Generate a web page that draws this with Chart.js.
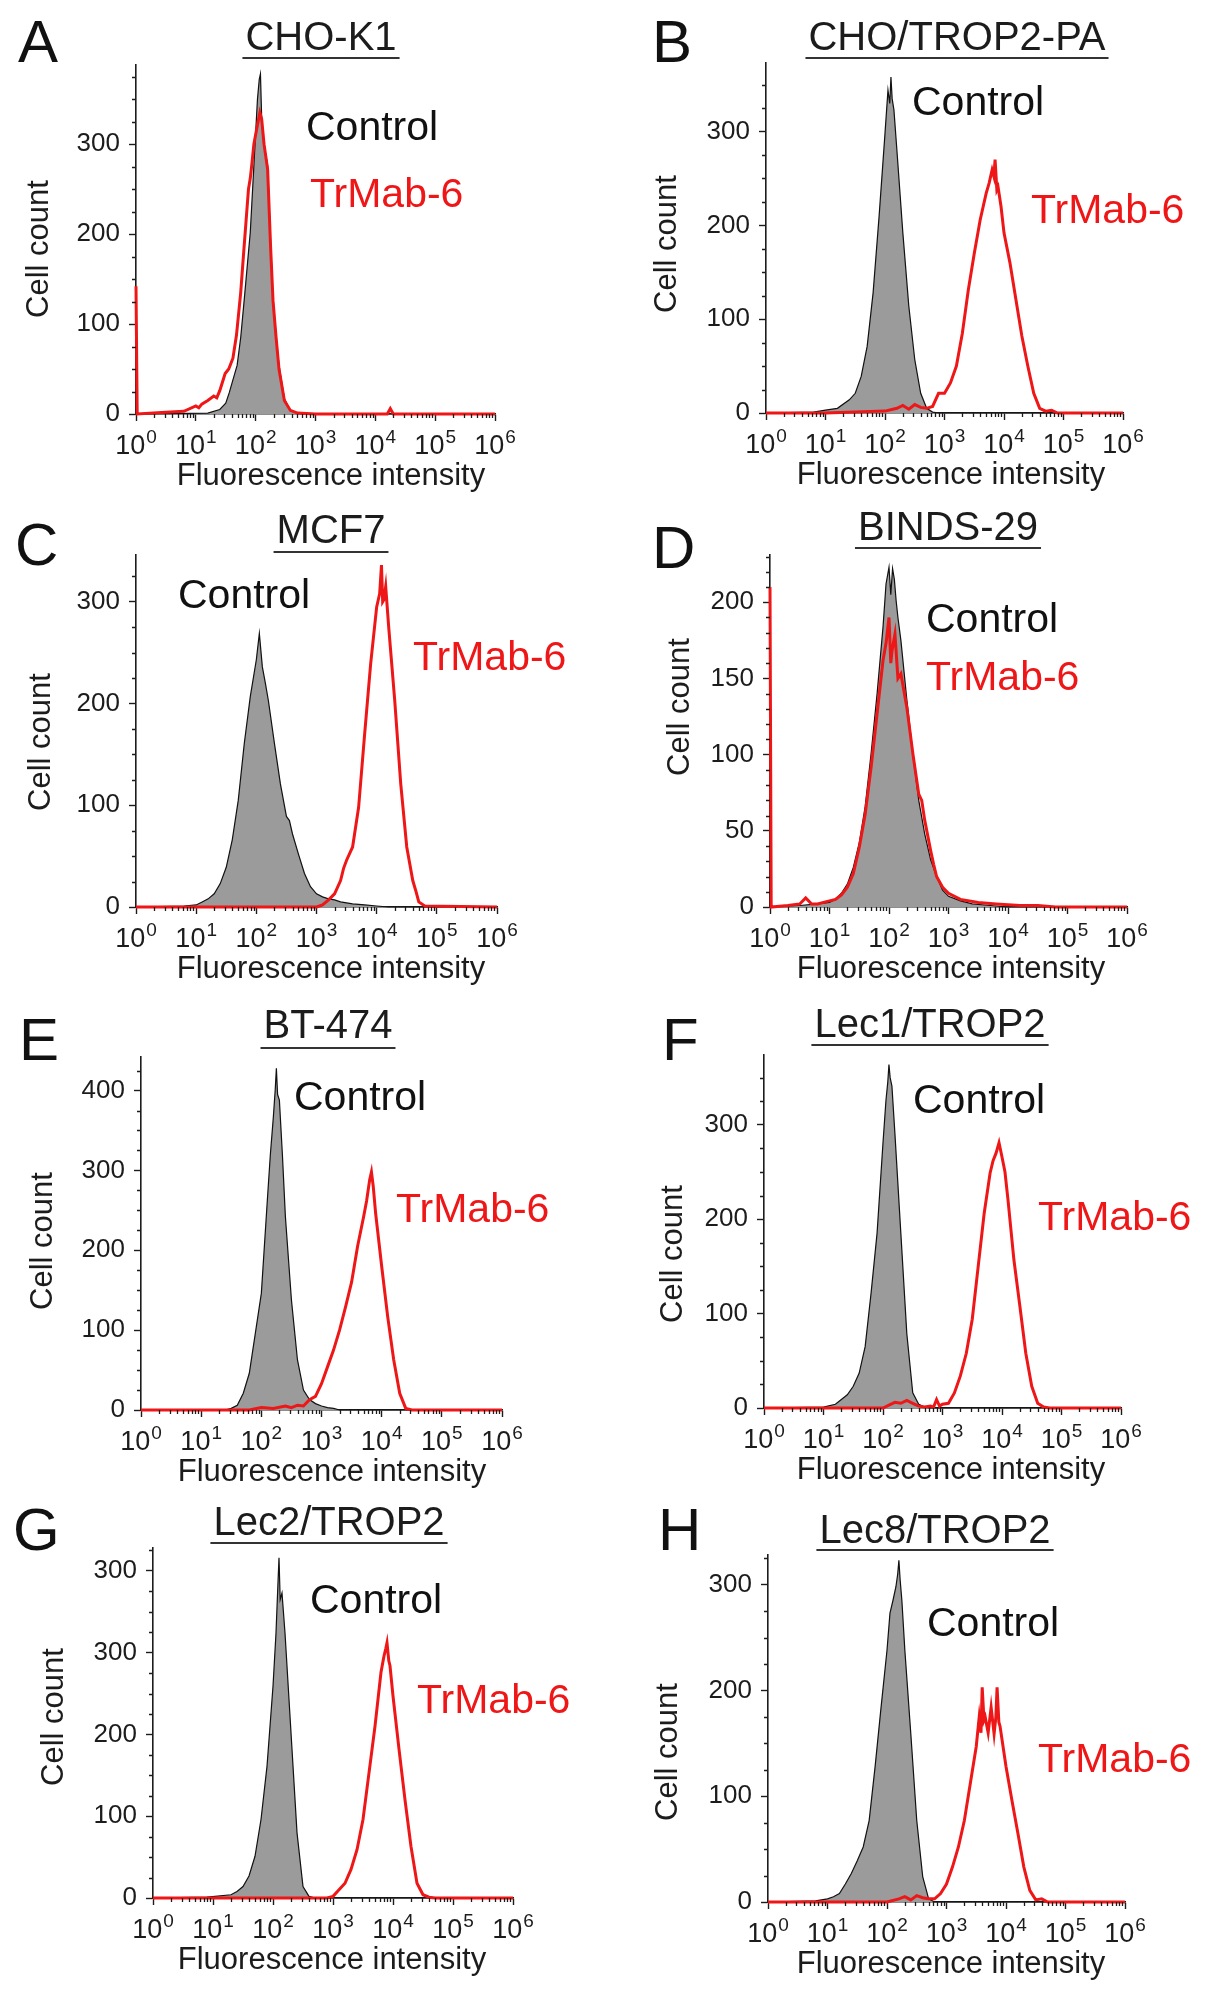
<!DOCTYPE html>
<html>
<head>
<meta charset="utf-8">
<script src="https://cdn.jsdelivr.net/npm/chart.js@4.4.1/dist/chart.umd.min.js"></script>
<style>
html,body{margin:0;padding:0;background:#ffffff;}
#wrap{position:relative;width:1205px;height:2000px;overflow:hidden;}
#wrap canvas{position:absolute;}
</style>
</head>
<body>
<div id="wrap"></div>
<script>
// ---------- DATA ----------
// x values are given as log10(fluorescence intensity)
const panelIds = ['A','B','C','D','E','F','G','H'];
const panelTitles = ['CHO-K1','CHO/TROP2-PA','MCF7','BINDS-29','BT-474','Lec1/TROP2','Lec2/TROP2','Lec8/TROP2'];
const seriesNames = ['Control','TrMab-6'];

const xTickValues = [1, 10, 100, 1000, 10000, 100000, 1000000];
const xTickBase = '10';
const xTickExponents = ['0','1','2','3','4','5','6'];

const yTicks100 = [0, 100, 200, 300];
const yLabels100 = ['0','100','200','300'];
const yTicksD = [0, 50, 100, 150, 200];
const yLabelsD = ['0','50','100','150','200'];
const yTicksE = [0, 100, 200, 300, 400];
const yLabelsE = ['0','100','200','300','400'];
const yTicksG = [0, 100, 200, 300, 400];
const yLabelsG = ['0','100','200','300','300'];

// Panel A - CHO-K1
const A_ctrl_log = [0, 1.2, 1.4, 1.5, 1.56, 1.62, 1.69, 1.75, 1.81, 1.86, 1.91, 1.97, 2.03, 2.06, 2.08, 2.1, 2.14, 2.2, 2.25, 2.29, 2.34, 2.39, 2.48, 2.58, 2.7, 2.8, 6];
const A_ctrl_cnt = [0, 1, 5, 12, 24, 38, 54, 85, 128, 165, 202, 276, 350, 372, 378, 330, 300, 276, 190, 128, 88, 54, 17, 4, 1, 0, 0];
const A_tr_log = [0, 0.02, 0.5, 0.8, 1.0, 1.05, 1.1, 1.2, 1.3, 1.35, 1.4, 1.49, 1.55, 1.62, 1.68, 1.75, 1.8, 1.84, 1.88, 1.91, 1.94, 1.97, 2.02, 2.07, 2.1, 2.14, 2.2, 2.25, 2.29, 2.34, 2.39, 2.48, 2.58, 2.7, 3.0, 4.2, 4.25, 4.3, 6];
const A_tr_cnt = [142, 0, 2, 3, 9, 7, 11, 15, 20, 18, 26, 45, 50, 62, 88, 135, 180, 215, 250, 262, 280, 300, 318, 335, 328, 300, 272, 185, 126, 86, 50, 15, 4, 1, 0, 0, 6, 0, 0];

// Panel B - CHO/TROP2-PA
const B_ctrl_log = [0, 0.8, 1.0, 1.2, 1.4, 1.5, 1.6, 1.7, 1.8, 1.9, 2.0, 2.05, 2.08, 2.1, 2.12, 2.15, 2.2, 2.3, 2.4, 2.5, 2.6, 2.7, 2.8, 2.9, 6];
const B_ctrl_cnt = [0, 1, 3, 5, 14, 21, 39, 71, 128, 209, 298, 344, 330, 358, 335, 323, 280, 192, 114, 57, 21, 5, 1, 0, 0];
const B_tr_log = [0, 1.0, 2.0, 2.2, 2.3, 2.4, 2.5, 2.6, 2.7, 2.8, 2.9, 3.0, 3.1, 3.2, 3.3, 3.4, 3.5, 3.6, 3.7, 3.75, 3.8, 3.83, 3.85, 3.88, 3.9, 3.95, 4.0, 4.1, 4.2, 4.3, 4.4, 4.5, 4.6, 4.7, 4.8, 4.9, 6];
const B_tr_cnt = [0, 0, 2, 5, 8, 4, 9, 6, 5, 7, 21, 21, 32, 50, 85, 131, 170, 206, 234, 245, 259, 252, 270, 238, 241, 220, 192, 160, 121, 82, 50, 21, 5, 2, 3, 0, 0];

// Panel C - MCF7
const C_ctrl_log = [0, 0.8, 1.0, 1.1, 1.2, 1.3, 1.4, 1.5, 1.6, 1.7, 1.8, 1.9, 2.0, 2.05, 2.1, 2.15, 2.2, 2.3, 2.4, 2.5, 2.55, 2.6, 2.7, 2.8, 2.9, 3.0, 3.1, 3.2, 3.3, 3.4, 3.5, 3.6, 3.8, 4.0, 4.2, 6];
const C_ctrl_cnt = [0, 1, 2, 5, 8, 13, 23, 39, 66, 105, 161, 207, 243, 269, 236, 220, 203, 161, 121, 89, 85, 72, 52, 33, 20, 13, 10, 8, 7, 5, 4, 3, 2, 1, 0, 0];
const C_tr_log = [0, 3.0, 3.1, 3.2, 3.3, 3.4, 3.45, 3.5, 3.6, 3.7, 3.8, 3.9, 4.0, 4.05, 4.08, 4.1, 4.12, 4.15, 4.2, 4.3, 4.4, 4.5, 4.6, 4.65, 4.7, 4.8, 6];
const C_tr_cnt = [0, 0, 2, 7, 13, 26, 38, 46, 59, 98, 170, 239, 295, 308, 336, 300, 302, 315, 275, 203, 121, 59, 26, 16, 5, 1, 0];

// Panel D - BINDS-29
const D_ctrl_log = [0, 0.5, 0.8, 1.0, 1.1, 1.2, 1.3, 1.4, 1.5, 1.6, 1.7, 1.8, 1.9, 1.95, 2.0, 2.03, 2.06, 2.09, 2.12, 2.15, 2.2, 2.3, 2.4, 2.5, 2.6, 2.7, 2.8, 2.9, 3.0, 3.2, 3.4, 3.7, 4.0, 6];
const D_ctrl_cnt = [0, 1, 2, 3, 5, 9, 15, 26, 42, 66, 101, 140, 184, 212, 223, 205, 222, 215, 201, 190, 175, 136, 101, 70, 48, 31, 20, 11, 7, 4, 2, 1, 0, 0];
const D_tr_log = [0, 0.02, 0.3, 0.5, 0.6, 0.7, 0.8, 1.0, 1.1, 1.2, 1.3, 1.4, 1.5, 1.6, 1.7, 1.8, 1.9, 1.95, 2.0, 2.03, 2.05, 2.1, 2.15, 2.2, 2.3, 2.4, 2.5, 2.55, 2.6, 2.7, 2.75, 2.8, 2.9, 3.0, 3.2, 3.5, 3.8, 4.2, 4.5, 4.8, 6];
const D_tr_cnt = [210, 0, 1, 2, 6, 2, 2, 4, 5, 8, 13, 22, 39, 61, 92, 127, 162, 173, 190, 160, 168, 179, 150, 153, 131, 101, 74, 70, 57, 37, 28, 20, 13, 9, 5, 3, 2, 1, 1, 0, 0];

// Panel E - BT-474
const E_ctrl_log = [0, 1.4, 1.5, 1.6, 1.7, 1.8, 1.9, 2.0, 2.1, 2.15, 2.2, 2.23, 2.25, 2.27, 2.3, 2.35, 2.4, 2.5, 2.6, 2.7, 2.8, 2.9, 3.0, 3.1, 3.2, 3.3, 6];
const E_ctrl_cnt = [0, 0, 2, 6, 21, 46, 96, 146, 263, 320, 367, 400, 428, 395, 388, 320, 242, 138, 63, 25, 13, 8, 5, 3, 2, 0, 0];
const E_tr_log = [0, 1.8, 2.0, 2.2, 2.4, 2.5, 2.6, 2.7, 2.8, 2.9, 3.0, 3.1, 3.2, 3.3, 3.4, 3.5, 3.6, 3.7, 3.75, 3.8, 3.83, 3.86, 3.9, 4.0, 4.1, 4.2, 4.3, 4.4, 4.5, 6];
const E_tr_cnt = [0, 0, 3, 2, 5, 3, 6, 5, 13, 17, 33, 54, 75, 100, 129, 160, 205, 242, 262, 288, 298, 280, 246, 180, 117, 63, 21, 2, 0, 0];

// Panel F - Lec1/TROP2
const F_ctrl_log = [0, 1.0, 1.2, 1.3, 1.4, 1.5, 1.6, 1.7, 1.8, 1.9, 2.0, 2.05, 2.08, 2.1, 2.12, 2.15, 2.2, 2.3, 2.4, 2.5, 2.6, 2.7, 2.8, 6];
const F_ctrl_cnt = [0, 1, 4, 9, 14, 23, 37, 65, 122, 185, 281, 326, 345, 364, 350, 341, 291, 185, 79, 16, 4, 1, 0, 0];
const F_tr_log = [0, 2.0, 2.1, 2.2, 2.3, 2.4, 2.5, 2.6, 2.7, 2.8, 2.85, 2.9, 2.95, 3.0, 3.1, 3.2, 3.3, 3.4, 3.5, 3.6, 3.7, 3.8, 3.85, 3.9, 3.95, 4.0, 4.05, 4.1, 4.2, 4.3, 4.4, 4.5, 4.6, 4.7, 4.8, 6];
const F_tr_cnt = [0, 0, 3, 6, 5, 8, 5, 2, 1, 2, 1, 9, 2, 4, 5, 16, 34, 58, 94, 150, 206, 249, 262, 270, 281, 266, 250, 221, 157, 108, 58, 23, 5, 1, 0, 0];

// Panel G - Lec2/TROP2
const G_ctrl_log = [0, 0.9, 1.3, 1.4, 1.5, 1.6, 1.7, 1.8, 1.9, 2.0, 2.05, 2.08, 2.1, 2.12, 2.15, 2.2, 2.3, 2.4, 2.5, 2.6, 2.7, 6];
const G_ctrl_cnt = [0, 1, 4, 8, 14, 27, 51, 96, 161, 259, 324, 380, 416, 365, 373, 324, 202, 80, 14, 2, 0, 0];
const G_tr_log = [0, 2.9, 3.0, 3.1, 3.2, 3.3, 3.4, 3.5, 3.6, 3.7, 3.8, 3.85, 3.88, 3.9, 3.93, 3.95, 4.0, 4.1, 4.2, 4.3, 4.4, 4.5, 4.6, 4.7, 6];
const G_tr_cnt = [0, 0, 2, 10, 18, 35, 59, 96, 153, 210, 276, 296, 305, 312, 290, 284, 247, 182, 120, 63, 18, 4, 1, 0, 0];

// Panel H - Lec8/TROP2
const H_ctrl_log = [0, 0.8, 1.0, 1.1, 1.2, 1.3, 1.4, 1.5, 1.6, 1.7, 1.8, 1.9, 2.0, 2.05, 2.1, 2.15, 2.18, 2.2, 2.22, 2.25, 2.3, 2.4, 2.5, 2.6, 2.7, 2.8, 6];
const H_ctrl_cnt = [0, 1, 3, 5, 8, 17, 27, 39, 52, 77, 128, 184, 238, 273, 285, 298, 310, 323, 305, 285, 238, 159, 77, 24, 3, 0, 0];
const H_tr_log = [0, 2.0, 2.2, 2.3, 2.4, 2.5, 2.6, 2.7, 2.8, 2.9, 3.0, 3.1, 3.2, 3.3, 3.4, 3.5, 3.55, 3.58, 3.6, 3.63, 3.65, 3.7, 3.75, 3.8, 3.83, 3.85, 3.88, 3.9, 4.0, 4.1, 4.2, 4.3, 4.4, 4.5, 4.6, 4.7, 6];
const H_tr_cnt = [0, 0, 3, 5, 2, 6, 4, 3, 3, 8, 17, 33, 52, 77, 112, 147, 175, 160, 203, 172, 175, 160, 184, 159, 175, 203, 170, 166, 128, 96, 65, 33, 11, 2, 3, 0, 0];

// ---------- LAYOUT (page pixels) ----------
const FONT = "'Liberation Sans', Arial, Helvetica, sans-serif";
const INK = '#1c1c1c';
const RED = 'rgb(238,22,22)';
const GRAY = '#9b9b9b';

const layout = {
  A:{col:0,row:0,axisX:136,right:495,axisY:414,top:65,ymax:388,minor:25,yt:yTicks100,yl:yLabels100,
     title:{cx:321,base:50,ul:58},letter:{x:18,base:62},ctrl:{x:306,base:140},tr:{x:310,base:207},cc:{x:39,y:249},fi:{x:331}},
  B:{col:1,row:0,axisX:766,right:1123,axisY:413,top:63,ymax:373,minor:25,yt:yTicks100,yl:yLabels100,
     title:{cx:957,base:50,ul:58},letter:{x:652,base:62},ctrl:{x:912,base:115},tr:{x:1031,base:223},cc:{x:667,y:244},fi:{x:951}},
  C:{col:0,row:1,axisX:136,right:497,axisY:907,top:555,ymax:346,minor:25,yt:yTicks100,yl:yLabels100,
     title:{cx:331,base:543,ul:552},letter:{x:15,base:565},ctrl:{x:178,base:608},tr:{x:413,base:670},cc:{x:41,y:742},fi:{x:331}},
  D:{col:1,row:1,axisX:770,right:1127,axisY:907,top:555,ymax:231,minor:10,yt:yTicksD,yl:yLabelsD,
     title:{cx:948,base:540,ul:548},letter:{x:652,base:568},ctrl:{x:926,base:632},tr:{x:926,base:690},cc:{x:680,y:707},fi:{x:951}},
  E:{col:0,row:2,axisX:141,right:502,axisY:1410,top:1057,ymax:442,minor:25,yt:yTicksE,yl:yLabelsE,
     title:{cx:328,base:1038,ul:1048},letter:{x:19,base:1060},ctrl:{x:294,base:1110},tr:{x:396,base:1222},cc:{x:43,y:1241},fi:{x:332}},
  F:{col:1,row:2,axisX:764,right:1121,axisY:1408,top:1055,ymax:374,minor:25,yt:yTicks100,yl:yLabels100,
     title:{cx:930,base:1037,ul:1045},letter:{x:662,base:1060},ctrl:{x:913,base:1113},tr:{x:1038,base:1230},cc:{x:673,y:1254},fi:{x:951}},
  G:{col:0,row:3,axisX:153,right:513,axisY:1898,top:1548,ymax:428,minor:25,yt:yTicksG,yl:yLabelsG,
     title:{cx:329,base:1535,ul:1543},letter:{x:13,base:1550},ctrl:{x:310,base:1613},tr:{x:417,base:1713},cc:{x:54,y:1717},fi:{x:332}},
  H:{col:1,row:3,axisX:768,right:1125,axisY:1902,top:1555,ymax:328,minor:25,yt:yTicks100,yl:yLabels100,
     title:{cx:935,base:1543,ul:1550},letter:{x:658,base:1550},ctrl:{x:927,base:1636},tr:{x:1038,base:1772},cc:{x:668,y:1752},fi:{x:951}}
};

const seriesData = {
  A:[[A_ctrl_log,A_ctrl_cnt],[A_tr_log,A_tr_cnt]],
  B:[[B_ctrl_log,B_ctrl_cnt],[B_tr_log,B_tr_cnt]],
  C:[[C_ctrl_log,C_ctrl_cnt],[C_tr_log,C_tr_cnt]],
  D:[[D_ctrl_log,D_ctrl_cnt],[D_tr_log,D_tr_cnt]],
  E:[[E_ctrl_log,E_ctrl_cnt],[E_tr_log,E_tr_cnt]],
  F:[[F_ctrl_log,F_ctrl_cnt],[F_tr_log,F_tr_cnt]],
  G:[[G_ctrl_log,G_ctrl_cnt],[G_tr_log,G_tr_cnt]],
  H:[[H_ctrl_log,H_ctrl_cnt],[H_tr_log,H_tr_cnt]]
};

function toPoints(logs, counts){
  return logs.map((e,i)=>({x:Math.pow(10,e), y:counts[i]}));
}

// overlay plugin: minor ticks, power-of-ten tick labels and panel texts
const overlay = {
  id:'overlay',
  afterDraw(chart){
    const o = chart.options.plugins.overlay;
    if(!o) return;
    const ctx = chart.ctx, xs = chart.scales.x, ys = chart.scales.y, ca = chart.chartArea;
    ctx.save();
    ctx.strokeStyle = INK; ctx.lineWidth = 1.3;
    ctx.beginPath();
    for(let v = o.minor; v <= ys.max; v += o.minor){
      if(o.yt.indexOf(v) >= 0) continue;
      const py = Math.round(ys.getPixelForValue(v)) + 0.5;
      ctx.moveTo(ca.left - 4, py); ctx.lineTo(ca.left, py);
    }
    for(let d = 0; d < 6; d++){
      for(let m = 2; m <= 9; m++){
        const px = Math.round(xs.getPixelForValue(m*Math.pow(10,d))) + 0.5;
        ctx.moveTo(px, ca.bottom); ctx.lineTo(px, ca.bottom + 4);
      }
    }
    ctx.stroke();

    // x tick labels: 10 with raised exponent
    ctx.fillStyle = INK;
    ctx.textBaseline = 'alphabetic';
    ctx.textAlign = 'left';
    const baseFont = '27px ' + FONT, supFont = '19px ' + FONT;
    const labelBase = ca.bottom + 40;
    xTickValues.forEach((v, i) => {
      const px = xs.getPixelForValue(v);
      ctx.font = baseFont; const wb = ctx.measureText(xTickBase).width;
      ctx.font = supFont; const we = ctx.measureText(xTickExponents[i]).width;
      const x0 = px - (wb + we + 1) / 2;
      ctx.font = baseFont; ctx.fillText(xTickBase, x0, labelBase);
      ctx.font = supFont; ctx.fillText(xTickExponents[i], x0 + wb + 1, labelBase - 11);
    });

    const L = o.L, ox = o.ox, oy = o.oy;
    ctx.fillStyle = '#111';
    ctx.font = '60px ' + FONT;
    ctx.fillText(o.id, L.letter.x - ox, L.letter.base - oy);
    ctx.font = '40px ' + FONT;
    ctx.textAlign = 'center';
    ctx.fillStyle = INK;
    ctx.fillText(o.title, L.title.cx - ox, L.title.base - oy);
    const w = ctx.measureText(o.title).width;
    ctx.lineWidth = 2.2; ctx.strokeStyle = '#333';
    ctx.beginPath();
    ctx.moveTo(L.title.cx - ox - w/2 - 3, L.title.ul - oy);
    ctx.lineTo(L.title.cx - ox + w/2 + 3, L.title.ul - oy);
    ctx.stroke();
    ctx.textAlign = 'left';
    ctx.font = '41px ' + FONT;
    ctx.fillStyle = '#111';
    ctx.fillText(seriesNames[0], L.ctrl.x - ox, L.ctrl.base - oy);
    ctx.fillStyle = RED;
    ctx.fillText(seriesNames[1], L.tr.x - ox, L.tr.base - oy);
    ctx.fillStyle = INK;
    ctx.font = '31px ' + FONT;
    ctx.textAlign = 'center';
    ctx.fillText('Fluorescence intensity', L.fi.x - ox, ca.bottom + 71);
    ctx.save();
    ctx.translate(L.cc.x - ox, L.cc.y - oy);
    ctx.rotate(-Math.PI/2);
    ctx.textBaseline = 'middle';
    ctx.fillText('Cell count', 0, 0);
    ctx.restore();
    ctx.restore();
  }
};
Chart.register(overlay);

const wrap = document.getElementById('wrap');
panelIds.forEach((id, idx) => {
  const L = layout[id];
  const ox = L.col * 600, oy = L.row * 500;
  const W = L.col === 0 ? 600 : 605, H = 500;
  const cv = document.createElement('canvas');
  cv.width = W; cv.height = H;
  cv.style.left = ox + 'px'; cv.style.top = oy + 'px';
  cv.style.width = W + 'px'; cv.style.height = H + 'px';
  wrap.appendChild(cv);
  const [ctrl, tr] = seriesData[id];
  new Chart(cv.getContext('2d'), {
    type:'line',
    data:{
      datasets:[
        {label:seriesNames[1], data:toPoints(tr[0], tr[1]), borderColor:RED, borderWidth:3,
         fill:false, pointRadius:0, tension:0, order:0, clip:4},
        {label:seriesNames[0], data:toPoints(ctrl[0], ctrl[1]), borderColor:'#111', borderWidth:1.2,
         backgroundColor:GRAY, fill:'origin', pointRadius:0, tension:0, order:1, clip:4}
      ]
    },
    options:{
      responsive:false, animation:false, devicePixelRatio:1,
      events:[],
      layout:{padding:{left:0, top:L.top - oy, right:W - (L.right - ox), bottom:0}},
      plugins:{
        legend:{display:false}, tooltip:{enabled:false}, title:{display:false},
        overlay:{id:id, title:panelTitles[idx], L:L, ox:ox, oy:oy, minor:L.minor, yt:L.yt}
      },
      scales:{
        x:{
          type:'logarithmic', min:1, max:1000000,
          afterBuildTicks:(s)=>{ s.ticks = xTickValues.map(v=>({value:v, major:true})); },
          afterFit:(s)=>{ s.height = H - (L.axisY - oy); },
          ticks:{display:false, autoSkip:false, maxRotation:0, minRotation:0},
          grid:{drawOnChartArea:false, drawTicks:true, tickLength:7, tickColor:INK, tickWidth:1.4},
          border:{display:true, color:INK, width:1.6}
        },
        y:{
          type:'linear', min:0, max:L.ymax,
          afterBuildTicks:(s)=>{ s.ticks = L.yt.map(v=>({value:v})); },
          afterFit:(s)=>{ s.width = L.axisX - ox; },
          ticks:{padding:9, color:INK, font:{family:FONT, size:26}, callback:(v,i)=>L.yl[i]},
          grid:{drawOnChartArea:false, drawTicks:true, tickLength:7, tickColor:INK, tickWidth:1.4},
          border:{display:true, color:INK, width:1.6}
        }
      }
    }
  });
});
</script>
</body>
</html>
